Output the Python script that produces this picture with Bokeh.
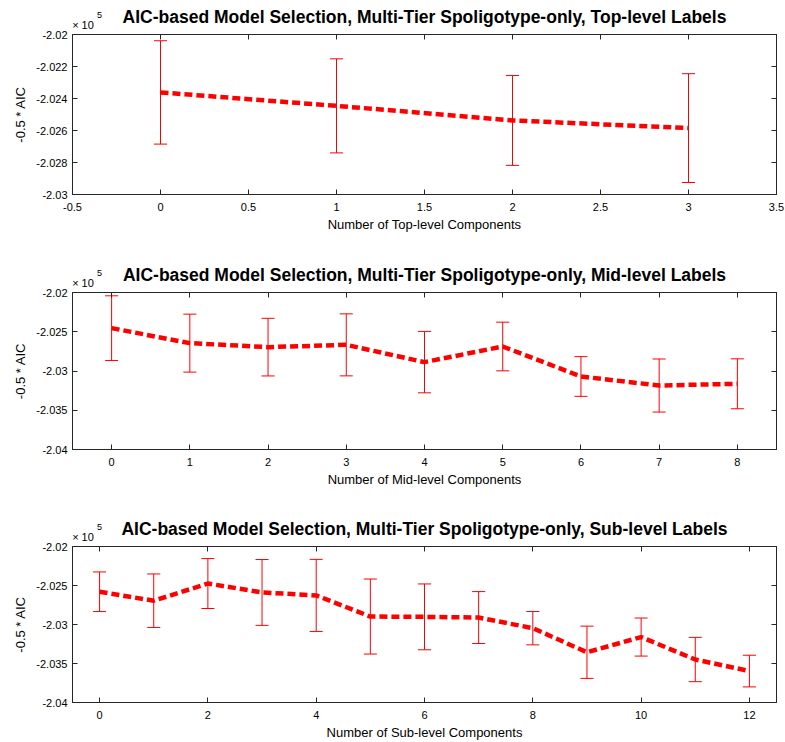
from bokeh.plotting import figure
from bokeh.models import (ColumnDataSource, Whisker, TeeHead, Range1d, LinearAxis,
                          FixedTicker, CustomJSTickFormatter, Title)
from bokeh.layouts import column
from bokeh.embed import file_html
from bokeh.resources import INLINE
import numpy as np

# ---------------- data ----------------
top_x = [0, 1, 2, 3]
top_mean = [-202362, -202446, -202537, -202585]
top_err = [323, 294, 281, 340]

mid_x = [0, 1, 2, 3, 4, 5, 6, 7, 8]
mid_mean = [-202454, -202645, -202696, -202667, -202887, -202688, -203070, -203185, -203163]
mid_err = [412, 369, 367, 395, 391, 310, 253, 338, 318]

sub_x = [0, 1, 2, 3, 4, 5, 6, 7, 8, 9, 10, 11, 12]
sub_mean = [-202580, -202695, -202475, -202589, -202627, -202898, -202902, -202911,
            -203047, -203356, -203161, -203449, -203597]
sub_err = [254, 343, 320, 422, 462, 481, 422, 333, 214, 335, 244, 284, 203]

top_xticks = [-0.5, 0, 0.5, 1, 1.5, 2, 2.5, 3, 3.5]
mid_xticks = [0, 1, 2, 3, 4, 5, 6, 7, 8]
sub_xticks = [0, 2, 4, 6, 8, 10, 12]
top_yticks = [-203000, -202800, -202600, -202400, -202200, -202000]
ms_yticks = [-204000, -203500, -203000, -202500, -202000]

titles = ["AIC-based Model Selection, Multi-Tier Spoligotype-only, Top-level Labels",
          "AIC-based Model Selection, Multi-Tier Spoligotype-only, Mid-level Labels",
          "AIC-based Model Selection, Multi-Tier Spoligotype-only, Sub-level Labels"]
xlabels = ["Number of Top-level Components",
           "Number of Mid-level Components",
           "Number of Sub-level Components"]
ylabel = "-0.5 * AIC"
exp_base = "\u00d7 10"
exp_power = "5"

FONT = "Liberation Sans"
AXC = "#262626"
FIG_W, BL, BR = 785, 72, 9
FW = FIG_W - BL - BR  # frame width in px


def text_axis(xr, px, txt, size, standoff):
    """An 'above' axis with no line/ticks that only carries one text at px from frame left."""
    xpos = xr[0] + px * (xr[1] - xr[0]) / FW
    return LinearAxis(ticker=FixedTicker(ticks=[xpos]),
                      formatter=CustomJSTickFormatter(args=dict(t=txt), code="return t;"),
                      major_label_text_font=FONT, major_label_text_font_size=size,
                      major_label_text_color="black", major_label_standoff=standoff,
                      major_tick_in=0, major_tick_out=0, major_tick_line_color=None,
                      minor_tick_line_color=None, axis_line_color=None)


def make_panel(title, xlabel, x, mean, err, xr, yr, xticks, yticks,
               height, btop, bbot, lstand, alstand):
    mean = np.array(mean, dtype=float)
    err = np.array(err, dtype=float)
    src = ColumnDataSource(dict(x=x, mean=mean, upper=mean + err, lower=mean - err))
    p = figure(width=FIG_W, height=height, output_backend="svg", toolbar_location=None,
               x_range=Range1d(*xr), y_range=Range1d(*yr),
               min_border_left=BL, min_border_right=BR,
               min_border_top=btop, min_border_bottom=bbot,
               background_fill_color="white", border_fill_color="white")
    p.grid.visible = False
    p.outline_line_color = AXC
    p.outline_line_width = 1
    p.title.visible = False

    xf = CustomJSTickFormatter(code="return String(parseFloat(tick.toFixed(6)));")
    yf = CustomJSTickFormatter(code="return String(parseFloat((tick/1e5).toFixed(6)));")

    xa = p.xaxis[0]
    xa.ticker = FixedTicker(ticks=xticks)
    xa.formatter = xf
    xa.axis_label = xlabel
    ya = p.yaxis[0]
    ya.ticker = FixedTicker(ticks=yticks)
    ya.formatter = yf
    ya.axis_label = ylabel
    for ax in (xa, ya):
        ax.major_tick_in = 5
        ax.major_tick_out = 0
        ax.minor_tick_line_color = None
        ax.axis_line_color = AXC
        ax.major_tick_line_color = AXC
        ax.major_label_text_font = FONT
        ax.major_label_text_font_size = "11px"
        ax.major_label_text_color = "black"
        ax.axis_label_text_font = FONT
        ax.axis_label_text_font_size = "13px"
        ax.axis_label_text_font_style = "normal"
        ax.axis_label_text_color = "black"
    xa.major_label_standoff = lstand
    xa.axis_label_standoff = alstand
    ya.major_label_standoff = 5
    ya.axis_label_standoff = 5

    # mirrored ticks (top / right), no labels
    blank = CustomJSTickFormatter(code="return '';")
    for loc, ticks in (("above", xticks), ("right", yticks)):
        ax = LinearAxis(ticker=FixedTicker(ticks=ticks), formatter=blank,
                        major_label_text_font_size="0px",
                        major_label_standoff=0, major_tick_in=5, major_tick_out=0,
                        minor_tick_line_color=None, axis_line_color=AXC,
                        major_tick_line_color=AXC)
        p.add_layout(ax, loc)

    # stack above the frame: "x 10", then the title, then the exponent "5"
    p.add_layout(text_axis(xr, 10.5, exp_base, "11px", 4), "above")
    t = Title(text=title, align="center", text_font=FONT, text_font_size="17.5px",
              text_font_style="bold", text_color="black")
    try:
        t.standoff = -23
    except Exception:
        t.standoff = 0
    p.add_layout(t, "above")
    p.add_layout(text_axis(xr, 27, exp_power, "9px", -2), "above")

    w = Whisker(source=src, base="x", upper="upper", lower="lower",
                line_color="red", line_width=1, level="underlay",
                upper_head=TeeHead(size=13, line_color="red", line_width=1),
                lower_head=TeeHead(size=13, line_color="red", line_width=1))
    p.add_layout(w)
    p.line("x", "mean", source=src, line_color="red", line_width=4.5, line_dash="8 4")
    return p


p1 = make_panel(titles[0], xlabels[0], top_x, top_mean, top_err, (-0.5, 3.5),
                (-203000, -202000), top_xticks, top_yticks, 250, 34, 56, 8, 3)
p2 = make_panel(titles[1], xlabels[1], mid_x, mid_mean, mid_err, (-0.5, 8.5),
                (-204000, -202000), mid_xticks, ms_yticks, 250, 42, 51, 8, 3)
p3 = make_panel(titles[2], xlabels[2], sub_x, sub_mean, sub_err, (-0.5, 12.5),
                (-204000, -202000), sub_xticks, ms_yticks, 242, 46, 39, 8, 3)

layout = column(p1, p2, p3)
open("out.html", "w").write(file_html(layout, INLINE))
